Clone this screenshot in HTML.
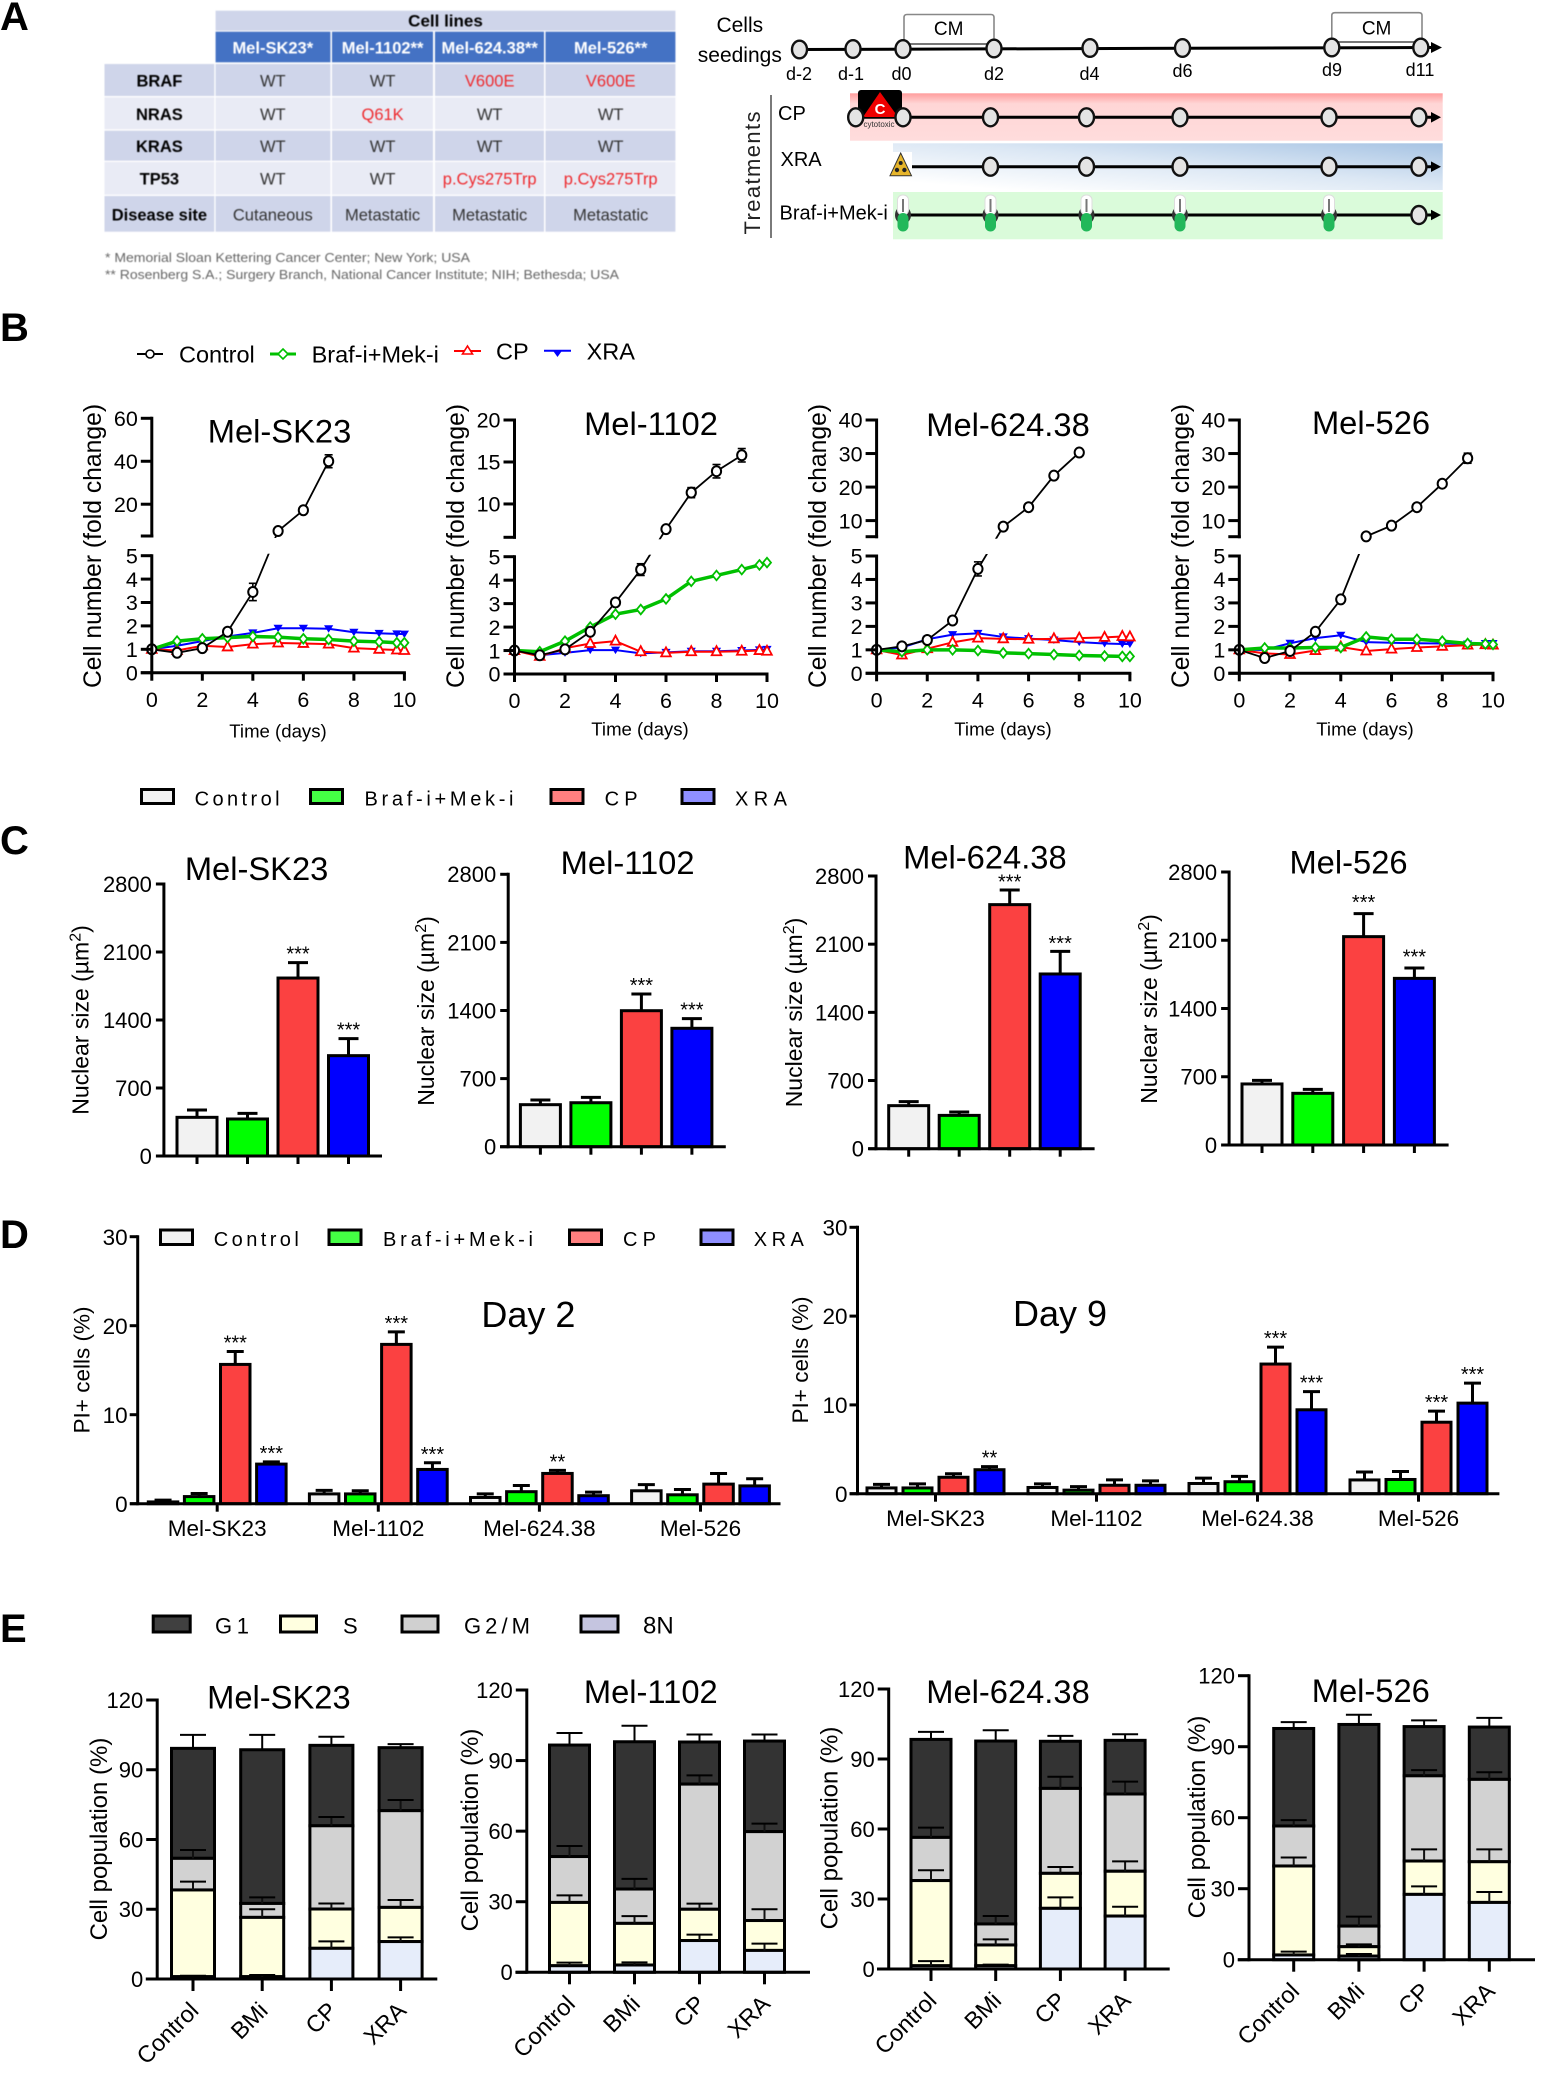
<!DOCTYPE html>
<html lang="en">
<head>
<meta charset="utf-8">
<title>Melanoma cell line treatment response figure</title>
<style>
html,body{margin:0;padding:0;background:#fff;}
svg{display:block;font-family:"Liberation Sans",Arial,sans-serif;}
text{fill:#000;}
</style>
</head>
<body>
<svg id="fig" xmlns="http://www.w3.org/2000/svg" width="1568" height="2086" viewBox="0 0 1568 2086">
<defs>
<linearGradient id="cpGrad" x1="0" y1="0" x2="0" y2="1">
<stop offset="0" stop-color="#ff9d9d"/><stop offset="0.22" stop-color="#ffd6d6"/><stop offset="1" stop-color="#ffdcdc"/>
</linearGradient>
<linearGradient id="xraGrad" x1="0" y1="1" x2="1" y2="0">
<stop offset="0.1" stop-color="#ffffff"/><stop offset="0.55" stop-color="#dbe7f4"/><stop offset="1" stop-color="#a6c3e3"/>
</linearGradient>
</defs>
<rect width="1568" height="2086" fill="#fff"/>

<text x="0" y="30" font-size="40" font-weight="bold">A</text>
<text x="0" y="341" font-size="40" font-weight="bold">B</text>
<text x="0" y="854" font-size="40" font-weight="bold">C</text>
<text x="0" y="1248" font-size="40" font-weight="bold">D</text>
<text x="0" y="1642" font-size="40" font-weight="bold">E</text>

<g id="cell-table" style="filter:blur(0.4px)" text-anchor="middle" font-size="16.5">
<rect x="215.6" y="10.7" width="459.8" height="20" fill="#cfd5ea"/>
<text x="445.5" y="26.7" font-weight="bold" font-size="17">Cell lines</text>
<g fill="#4472c4">
<rect x="215.6" y="31.7" width="114.8" height="30.6"/>
<rect x="332" y="31.7" width="101" height="30.6"/>
<rect x="435" y="31.7" width="109" height="30.6"/>
<rect x="545.5" y="31.7" width="129.9" height="30.6"/>
</g>
<g font-weight="bold">
<text x="272.8" y="53.3" style="fill:#fff">Mel-SK23*</text>
<text x="382.6" y="53.3" style="fill:#fff">Mel-1102**</text>
<text x="489.7" y="53.3" style="fill:#fff">Mel-624.38**</text>
<text x="610.7" y="53.3" style="fill:#fff">Mel-526**</text>
</g>
<g>
<g fill="#cfd5ea"><rect x="104.5" y="64" width="109.8" height="32"/><rect x="215.6" y="64" width="114.8" height="32"/><rect x="332" y="64" width="101" height="32"/><rect x="435" y="64" width="109" height="32"/><rect x="545.5" y="64" width="129.9" height="32"/></g>
<g fill="#e9ebf5"><rect x="104.5" y="97.3" width="109.8" height="32"/><rect x="215.6" y="97.3" width="114.8" height="32"/><rect x="332" y="97.3" width="101" height="32"/><rect x="435" y="97.3" width="109" height="32"/><rect x="545.5" y="97.3" width="129.9" height="32"/></g>
<g fill="#cfd5ea"><rect x="104.5" y="130.7" width="109.8" height="30"/><rect x="215.6" y="130.7" width="114.8" height="30"/><rect x="332" y="130.7" width="101" height="30"/><rect x="435" y="130.7" width="109" height="30"/><rect x="545.5" y="130.7" width="129.9" height="30"/></g>
<g fill="#e9ebf5"><rect x="104.5" y="162" width="109.8" height="32.7"/><rect x="215.6" y="162" width="114.8" height="32.7"/><rect x="332" y="162" width="101" height="32.7"/><rect x="435" y="162" width="109" height="32.7"/><rect x="545.5" y="162" width="129.9" height="32.7"/></g>
<g fill="#cfd5ea"><rect x="104.5" y="196" width="109.8" height="35.7"/><rect x="215.6" y="196" width="114.8" height="35.7"/><rect x="332" y="196" width="101" height="35.7"/><rect x="435" y="196" width="109" height="35.7"/><rect x="545.5" y="196" width="129.9" height="35.7"/></g>
</g>
<g font-weight="bold">
<text x="159.4" y="86.3">BRAF</text>
<text x="159.4" y="120">NRAS</text>
<text x="159.4" y="152">KRAS</text>
<text x="159.4" y="184.7">TP53</text>
<text x="159.4" y="220.7">Disease site</text>
</g>
<g>
<text x="272.8" y="86.3" style="fill:#333">WT</text><text x="382.6" y="86.3" style="fill:#333">WT</text><text x="489.7" y="86.3" style="fill:#ee2a2e">V600E</text><text x="610.7" y="86.3" style="fill:#ee2a2e">V600E</text>
<text x="272.8" y="120" style="fill:#333">WT</text><text x="382.6" y="120" style="fill:#ee2a2e">Q61K</text><text x="489.7" y="120" style="fill:#333">WT</text><text x="610.7" y="120" style="fill:#333">WT</text>
<text x="272.8" y="152" style="fill:#333">WT</text><text x="382.6" y="152" style="fill:#333">WT</text><text x="489.7" y="152" style="fill:#333">WT</text><text x="610.7" y="152" style="fill:#333">WT</text>
<text x="272.8" y="184.7" style="fill:#333">WT</text><text x="382.6" y="184.7" style="fill:#333">WT</text><text x="489.7" y="184.7" style="fill:#ee2a2e">p.Cys275Trp</text><text x="610.7" y="184.7" style="fill:#ee2a2e">p.Cys275Trp</text>
<text x="272.8" y="220.7" style="fill:#333">Cutaneous</text><text x="382.6" y="220.7" style="fill:#333">Metastatic</text><text x="489.7" y="220.7" style="fill:#333">Metastatic</text><text x="610.7" y="220.7" style="fill:#333">Metastatic</text>
</g>
<text x="105" y="262" text-anchor="start" font-size="13" textLength="365" lengthAdjust="spacingAndGlyphs" style="fill:#666">* Memorial Sloan Kettering Cancer Center; New York; USA</text>
<text x="105" y="279" text-anchor="start" font-size="13" textLength="514" lengthAdjust="spacingAndGlyphs" style="fill:#666">** Rosenberg S.A.; Surgery Branch, National Cancer Institute; NIH;  Bethesda; USA</text>
</g>

<g id="timeline" style="filter:blur(0.35px)">
<rect x="850" y="93.3" width="592.7" height="47.4" fill="url(#cpGrad)"/>
<rect x="893" y="143.3" width="549.7" height="46.7" fill="url(#xraGrad)"/>
<rect x="893" y="192" width="549.7" height="47.3" fill="#dafbda"/>

<text x="739.8" y="32" font-size="21" text-anchor="middle">Cells</text>
<text x="739.8" y="62" font-size="21" text-anchor="middle">seedings</text>
<path d="M904 44V17.5Q904 14.5 907 14.5H991Q994 14.5 994 17.5V44" fill="none" stroke="#888" stroke-width="1.6"/>
<path d="M1331.8 42V15.5Q1331.8 12.7 1335 12.7H1419Q1422 12.7 1422 15.5V42" fill="none" stroke="#888" stroke-width="1.6"/>
<line x1="904" y1="44" x2="994" y2="44" stroke="#777" stroke-width="2"/>
<line x1="1331.8" y1="42" x2="1422" y2="42" stroke="#777" stroke-width="2"/>
<text x="948.7" y="35" font-size="19" text-anchor="middle">CM</text>
<text x="1376.6" y="34.5" font-size="19" text-anchor="middle">CM</text>

<line x1="799.5" y1="49.5" x2="1432" y2="47.5" stroke="#000" stroke-width="3"/>
<polygon points="1431,42 1442,47.5 1431,53" fill="#000"/>
<g fill="#e4e4e4" stroke="#111" stroke-width="2.4">
<ellipse cx="799.5" cy="49.5" rx="7.5" ry="8.8"/><ellipse cx="853" cy="49" rx="7.5" ry="8.8"/><ellipse cx="903" cy="49" rx="7.5" ry="8.8"/><ellipse cx="994" cy="48.5" rx="7.5" ry="8.8"/><ellipse cx="1090" cy="48" rx="7.5" ry="8.8"/><ellipse cx="1182.5" cy="48" rx="7.5" ry="8.8"/><ellipse cx="1331.8" cy="47.5" rx="7.5" ry="8.8"/><ellipse cx="1420.8" cy="47.5" rx="7.5" ry="8.8"/>
</g>
<g font-size="18" text-anchor="middle">
<text x="799" y="80">d-2</text><text x="851" y="80">d-1</text><text x="901.5" y="80">d0</text><text x="994" y="80">d2</text><text x="1089.5" y="80">d4</text><text x="1182.5" y="77">d6</text><text x="1332" y="76">d9</text><text x="1420" y="76">d11</text>
</g>

<line x1="771" y1="95" x2="771" y2="238" stroke="#222" stroke-width="1.2"/>
<text x="760" y="173" transform="rotate(-90 760 173)" font-size="22" text-anchor="middle" textLength="123" style="fill:#222">Treatments</text>
<text x="778" y="120" font-size="20">CP</text>
<text x="780.5" y="166" font-size="20">XRA</text>
<text x="779.5" y="219.5" font-size="20">Braf-i+Mek-i</text>

<line x1="856" y1="117.3" x2="1432" y2="117.3" stroke="#000" stroke-width="3"/>
<polygon points="1431,112 1441,117.3 1431,122.6" fill="#000"/>
<g>
<rect x="858" y="90" width="44" height="25" rx="3" fill="#000"/>
<polygon points="880,92 863,117 898,117" fill="#ee0000"/>
<text x="880" y="114" font-size="15" font-weight="bold" text-anchor="middle" style="fill:#fff">C</text>
<text x="879" y="127" font-size="8" text-anchor="middle" style="fill:#333">cytotoxic</text>
</g>
<g fill="#e4e4e4" stroke="#111" stroke-width="2.4">
<ellipse cx="855.7" cy="117.3" rx="7.5" ry="9"/><ellipse cx="903" cy="117.3" rx="7.5" ry="9"/><ellipse cx="990.5" cy="117.3" rx="7.5" ry="9"/><ellipse cx="1086.5" cy="117.3" rx="7.5" ry="9"/><ellipse cx="1180" cy="117.3" rx="7.5" ry="9"/><ellipse cx="1329" cy="117.3" rx="7.5" ry="9"/><ellipse cx="1418.9" cy="117.3" rx="7.5" ry="9"/>
</g>

<line x1="911" y1="166.7" x2="1432" y2="166.7" stroke="#000" stroke-width="3"/>
<polygon points="1431,161.4 1441,166.7 1431,172" fill="#000"/>
<g>
<rect x="893" y="152" width="19" height="24" fill="#fff"/>
<polygon points="900.7,153 890,175.7 911.5,175.7" fill="#e6b52b" stroke="#333" stroke-width="1"/>
<circle cx="900.7" cy="163" r="2" fill="#222"/><circle cx="897" cy="170" r="2.2" fill="#222"/><circle cx="904.4" cy="170" r="2.2" fill="#222"/>
</g>
<g fill="#e4e4e4" stroke="#111" stroke-width="2.4">
<ellipse cx="990.5" cy="166.7" rx="7.5" ry="9"/><ellipse cx="1086.5" cy="166.7" rx="7.5" ry="9"/><ellipse cx="1180" cy="166.7" rx="7.5" ry="9"/><ellipse cx="1329" cy="166.7" rx="7.5" ry="9"/><ellipse cx="1418.9" cy="166.7" rx="7.5" ry="9"/>
</g>

<line x1="903" y1="215" x2="1432" y2="215" stroke="#000" stroke-width="3"/>
<polygon points="1431,209.7 1441,215 1431,220.3" fill="#000"/>
<g>
<g transform="translate(903 0)"><ellipse cx="0" cy="215" rx="8" ry="9" fill="#333"/><rect x="-5.5" y="195" width="11" height="20" rx="5" fill="#fff" stroke="#ddd"/><rect x="-1" y="199" width="2" height="13" fill="#777"/><rect x="-5.5" y="213" width="11" height="18.5" rx="5.5" fill="#22b85a"/></g>
<g transform="translate(990.5 0)"><ellipse cx="0" cy="215" rx="8" ry="9" fill="#333"/><rect x="-5.5" y="195" width="11" height="20" rx="5" fill="#fff" stroke="#ddd"/><rect x="-1" y="199" width="2" height="13" fill="#777"/><rect x="-5.5" y="213" width="11" height="18.5" rx="5.5" fill="#22b85a"/></g>
<g transform="translate(1086.5 0)"><ellipse cx="0" cy="215" rx="8" ry="9" fill="#333"/><rect x="-5.5" y="195" width="11" height="20" rx="5" fill="#fff" stroke="#ddd"/><rect x="-1" y="199" width="2" height="13" fill="#777"/><rect x="-5.5" y="213" width="11" height="18.5" rx="5.5" fill="#22b85a"/></g>
<g transform="translate(1180 0)"><ellipse cx="0" cy="215" rx="8" ry="9" fill="#333"/><rect x="-5.5" y="195" width="11" height="20" rx="5" fill="#fff" stroke="#ddd"/><rect x="-1" y="199" width="2" height="13" fill="#777"/><rect x="-5.5" y="213" width="11" height="18.5" rx="5.5" fill="#22b85a"/></g>
<g transform="translate(1329 0)"><ellipse cx="0" cy="215" rx="8" ry="9" fill="#333"/><rect x="-5.5" y="195" width="11" height="20" rx="5" fill="#fff" stroke="#ddd"/><rect x="-1" y="199" width="2" height="13" fill="#777"/><rect x="-5.5" y="213" width="11" height="18.5" rx="5.5" fill="#22b85a"/></g>
</g>
<ellipse cx="1418.9" cy="215" rx="7.5" ry="9" fill="#e4e4e4" stroke="#111" stroke-width="2.4"/>
</g>

<g id="legend-b" font-size="23.5">
<g><line x1="137" y1="354" x2="163" y2="354" stroke="#000" stroke-width="2"/><circle cx="150" cy="354" r="4" fill="#fff" stroke="#000" stroke-width="1.6"/><text x="179" y="362.5">Control</text></g>
<g><line x1="270" y1="354" x2="296" y2="354" stroke="#00c000" stroke-width="3"/><polygon points="283,349 288,354 283,359 278,354" fill="#fff" stroke="#00c000" stroke-width="1.6"/><text x="311.6" y="362.5">Braf-i+Mek-i</text></g>
<g><line x1="454" y1="351" x2="481" y2="351" stroke="#f00" stroke-width="2"/><polygon points="467.5,346 472.5,354 462.5,354" fill="#fff" stroke="#f00" stroke-width="1.6"/><text x="496" y="359.5">CP</text></g>
<g><line x1="544" y1="350.7" x2="571" y2="350.7" stroke="#00f" stroke-width="2"/><polygon points="552.5,350 562.5,350 557.5,357" fill="#00f"/><text x="586.6" y="359.5">XRA</text></g>
</g>

<g id="legend-c" font-size="20" stroke-width="3">
<g><rect x="141.5" y="789.5" width="32" height="14" fill="#f2f2f2" stroke="#000" stroke-width="3"/><text x="194.6" y="805.5" textLength="85">Control</text></g>
<g><rect x="310.5" y="789.5" width="32" height="14" fill="#44ff44" stroke="#000" stroke-width="3"/><text x="364.5" y="805.5" textLength="149">Braf-i+Mek-i</text></g>
<g><rect x="551" y="789.5" width="32" height="14" fill="#ff7f7f" stroke="#000" stroke-width="3"/><text x="604.6" y="805.5" textLength="33">CP</text></g>
<g><rect x="682" y="789.5" width="32" height="14" fill="#8f8fff" stroke="#000" stroke-width="3"/><text x="735" y="805.5" textLength="52">XRA</text></g>
</g>

<g id="legend-d" font-size="20">
<g><rect x="160.5" y="1230" width="32" height="14.5" fill="#f2f2f2" stroke="#000" stroke-width="3"/><text x="213.8" y="1246" textLength="85">Control</text></g>
<g><rect x="329" y="1230" width="32" height="14.5" fill="#44ff44" stroke="#000" stroke-width="3"/><text x="383" y="1246" textLength="150">Braf-i+Mek-i</text></g>
<g><rect x="569.5" y="1230" width="32" height="14.5" fill="#ff7f7f" stroke="#000" stroke-width="3"/><text x="623" y="1246" textLength="33">CP</text></g>
<g><rect x="701" y="1230" width="32" height="14.5" fill="#8f8fff" stroke="#000" stroke-width="3"/><text x="753.8" y="1246" textLength="50">XRA</text></g>
</g>

<g id="legend-e" font-size="22">
<g><rect x="153.2" y="1616" width="37" height="16" fill="#404040" stroke="#000" stroke-width="3"/><text x="215" y="1633.5" textLength="34">G1</text></g>
<g><rect x="280.5" y="1616" width="36" height="16" fill="#ffffe0" stroke="#000" stroke-width="3"/><text x="343" y="1633.5">S</text></g>
<g><rect x="402" y="1616" width="36" height="16" fill="#d0d0d0" stroke="#000" stroke-width="3"/><text x="464" y="1633.5" textLength="66">G2/M</text></g>
<g><rect x="581" y="1616" width="37" height="16" fill="#c5c5e0" stroke="#000" stroke-width="3"/><text x="643" y="1633.5" font-size="24">8N</text></g>
</g>

<g id="charts"></g>
</svg>

<script>
// ---------- Panel B: growth curves ----------
const growthDays = [0, 1, 2, 3, 4, 5, 6, 7, 8, 9, 9.7, 10];
const growthXTicks = [0, 2, 4, 6, 8, 10];
const growthLowerTicks = [0, 1, 2, 3, 4, 5];

const controlSK23 = [1, 0.85, 1.05, 1.75, 3.45, 7.5, 17.2, 40];
const brafSK23 = [1, 1.35, 1.45, 1.5, 1.55, 1.52, 1.45, 1.42, 1.35, 1.32, 1.28, 1.28];
const cpSK23 = [1, 0.95, 1.15, 1.1, 1.22, 1.27, 1.25, 1.22, 1.05, 1, 0.97, 0.95];
const xraSK23 = [1, 1.15, 1.35, 1.55, 1.7, 1.9, 1.9, 1.88, 1.73, 1.68, 1.66, 1.65];
const controlErrSK23 = [0, 0.03, 0.05, 0.12, 0.37, 0.5, 0.5, 3];
const upperTicksSK23 = [20, 40, 60];

const control1102 = [1, 0.8, 1.05, 1.8, 3.05, 4.45, 7, 11.35, 13.9, 15.8];
const braf1102 = [1, 0.95, 1.4, 2, 2.55, 2.75, 3.2, 3.95, 4.2, 4.45, 4.65, 4.75];
const cp1102 = [1, 0.75, 1.1, 1.3, 1.4, 0.95, 0.9, 0.95, 0.95, 0.97, 1, 0.97];
const xra1102 = [1, 0.8, 0.9, 1.02, 1.02, 0.88, 0.92, 0.97, 0.97, 1, 1.03, 1.05];
const controlErr1102 = [0, 0.03, 0.05, 0.1, 0.1, 0.25, 0.1, 0.6, 0.8, 0.8];
const upperTicks1102 = [10, 15, 20];

const control624 = [1, 1.15, 1.42, 2.25, 4.45, 8.2, 14, 23.4, 30.3];
const braf624 = [1, 0.92, 1, 1, 0.97, 0.87, 0.84, 0.8, 0.76, 0.74, 0.72, 0.72];
const cp624 = [1, 0.78, 1.05, 1.32, 1.5, 1.47, 1.45, 1.47, 1.5, 1.53, 1.57, 1.55];
const xra624 = [1, 1.1, 1.45, 1.65, 1.7, 1.55, 1.48, 1.42, 1.33, 1.27, 1.25, 1.25];
const controlErr624 = [0, 0.05, 0.05, 0.05, 0.3, 0.2, 0.2, 0.3, 0.4];
const upperTicks624 = [10, 20, 30, 40];

const control526 = [1, 0.65, 0.95, 1.77, 3.15, 5.3, 8.5, 14, 21, 28.6];
const braf526 = [1, 1.08, 1.08, 1.1, 1.1, 1.55, 1.45, 1.45, 1.37, 1.27, 1.25, 1.23];
const cp526 = [1, 0.85, 0.8, 0.97, 1.12, 0.95, 1.03, 1.1, 1.15, 1.2, 1.22, 1.2];
const xra526 = [1, 1, 1.28, 1.5, 1.62, 1.33, 1.3, 1.28, 1.27, 1.25, 1.27, 1.27];
const controlErr526 = [0, 0.03, 0.05, 0.05, 0.05, 0.1, 0.2, 0.3, 0.3, 1.5];
const upperTicks526 = [10, 20, 30, 40];

// ---------- Panel C: nuclear size ----------
const nuclearTicks = [0, 700, 1400, 2100, 2800];
const nuclearSK23 = [398, 381, 1832, 1033];
const nuclearErrSK23 = [473, 439, 1990, 1208];
const nuclear1102 = [432, 452, 1398, 1217];
const nuclearErr1102 = [480, 507, 1570, 1316];
const nuclear624 = [442, 342, 2506, 1794];
const nuclearErr624 = [483, 377, 2656, 2026];
const nuclear526 = [626, 530, 2137, 1709];
const nuclearErr526 = [663, 571, 2373, 1815];
const nuclearStars = ['', '', '***', '***'];

// ---------- Panel D: PI+ cells ----------
const piTicks = [0, 10, 20, 30];
const piGroups = ['Mel-SK23', 'Mel-1102', 'Mel-624.38', 'Mel-526'];
const piSeriesNames = ['control', 'braf-mek', 'cp', 'xra'];

const day2Control = [0.2, 1.1, 0.7, 1.45];
const day2Braf = [0.8, 1.1, 1.35, 1];
const day2CP = [15.65, 17.9, 3.4, 2.2];
const day2XRA = [4.45, 3.85, 0.9, 2];
const day2ControlErr = [0.4, 1.5, 1.1, 2.15];
const day2BrafErr = [1.15, 1.45, 2.05, 1.6];
const day2CPErr = [17.1, 19.3, 3.75, 3.4];
const day2XRAErr = [4.7, 4.6, 1.3, 2.8];
const day2CPStars = ['***', '***', '**', ''];
const day2XRAStars = ['***', '***', '', ''];

const day9Control = [0.65, 0.7, 1.15, 1.55];
const day9Braf = [0.65, 0.4, 1.35, 1.6];
const day9CP = [1.85, 0.95, 14.6, 8.05];
const day9XRA = [2.7, 0.95, 9.45, 10.2];
const day9ControlErr = [1.05, 1.1, 1.75, 2.45];
const day9BrafErr = [1.1, 0.8, 1.95, 2.5];
const day9CPErr = [2.25, 1.55, 16.5, 9.3];
const day9XRAErr = [3.05, 1.45, 11.5, 12.45];
const day9CPStars = ['', '', '***', '***'];
const day9XRAStars = ['**', '', '***', '***'];

// ---------- Panel E: cell cycle (cumulative stack tops, order Control, BMi, CP, XRA) ----------
const cycleTicks = [0, 30, 60, 90, 120];
const cycleTreatments = ['Control', 'BMi', 'CP', 'XRA'];

const n8SK23 = [1, 1, 13.2, 16.1];
const sSK23 = [38.3, 26.5, 30.1, 30.8];
const g2SK23 = [51.9, 32.5, 65.9, 72.4];
const g1SK23 = [99.2, 98.6, 100.5, 99.5];
const n8ErrSK23 = [1.4, 1.7, 16.2, 17.9];
const sErrSK23 = [41.9, 30, 32.5, 34];
const g2ErrSK23 = [55.5, 35.1, 69.7, 77];
const g1ErrSK23 = [105, 105, 104.2, 101];

const n81102 = [2.8, 3.1, 13.5, 9.3];
const s1102 = [29.7, 20.8, 26.8, 22];
const g21102 = [49.2, 35.4, 80, 59.8];
const g11102 = [96.6, 98, 97.9, 98.3];
const n8Err1102 = [4.1, 4.2, 16, 12.2];
const sErr1102 = [32.7, 23.9, 29.2, 26.8];
const g2Err1102 = [53.7, 39.7, 83.7, 63.2];
const g1Err1102 = [101.7, 104.8, 101.1, 101.1];

const n8624 = [1.4, 1.4, 26, 22.7];
const s624 = [37.9, 10.3, 41, 41.9];
const g2624 = [56.4, 19.3, 77.4, 75];
const g1624 = [98.4, 97.7, 97.6, 98];
const n8Err624 = [3.4, 1.9, 30.7, 26.7];
const sErr624 = [42.3, 12.7, 43.7, 46.1];
const g2Err624 = [60.6, 22.7, 82.4, 80.3];
const g1Err624 = [101.6, 102.3, 99.9, 100.6];

const n8526 = [2, 1.5, 27.6, 24.2];
const s526 = [39.6, 5.5, 41.7, 41.4];
const g2526 = [56.5, 14.2, 77.7, 76.2];
const g1526 = [97.7, 99.4, 98.5, 98.3];
const n8Err526 = [3.4, 2.4, 31, 28.6];
const sErr526 = [43.2, 6.5, 46.6, 46.6];
const g2Err526 = [59, 18.2, 80.1, 79.2];
const g1Err526 = [100.4, 103.5, 101.1, 102.2];

// ---------- drawing helpers ----------
const NS = 'http://www.w3.org/2000/svg';
const chartsRoot = document.getElementById('charts');

function make(parent, tag, attrs, content) {
  const e = document.createElementNS(NS, tag);
  for (const k in attrs) e.setAttribute(k, attrs[k]);
  if (content !== undefined) e.textContent = content;
  parent.appendChild(e);
  return e;
}
function seg(parent, x1, y1, x2, y2, w, color) {
  return make(parent, 'line', {x1: x1, y1: y1, x2: x2, y2: y2, stroke: color || '#000', 'stroke-width': w});
}
function centerText(parent, x, y, str, size, anchor) {
  return make(parent, 'text', {x: x, y: y + 0.36 * size, 'font-size': size, 'text-anchor': anchor || 'middle'}, str);
}
function verticalText(parent, x, y, str, size) {
  return make(parent, 'text', {x: x + 0.36 * size, y: y, 'font-size': size, 'text-anchor': 'middle',
    transform: 'rotate(-90 ' + (x + 0.36 * size) + ' ' + y + ')'}, str);
}
function group(parent) {
  return make(parent, 'g', {});
}

function drawYAxis(root, x, yTop, yBottom, ticks, scale, size, tickLen, gap, axisW) {
  const axis = seg(root, x, yTop - axisW / 2, x, yBottom + axisW / 2, axisW);
  
  
  ticks.forEach(function (t) {
    const mark = seg(root, x - tickLen, scale(t), x, scale(t), axisW);
    
    
    const lab = centerText(root, x - tickLen - gap, scale(t), String(t), size, 'end');
    
    
  });
}

// ---------- Panel B ----------
function drawMarker(g, kind, x, y, color) {
  if (kind === 'circle') return make(g, 'ellipse', {cx: x, cy: y, rx: 4.6, ry: 5, fill: '#fff', stroke: color, 'stroke-width': 2});
  if (kind === 'diamond') return make(g, 'polygon', {points: [x, y - 4.8, x + 4, y, x, y + 4.8, x - 4, y].join(','), fill: '#fff', stroke: color, 'stroke-width': 1.8});
  if (kind === 'tri') return make(g, 'polygon', {points: [x, y - 5.5, x + 4.8, y + 3.5, x - 4.8, y + 3.5].join(','), fill: '#fff', stroke: color, 'stroke-width': 1.8});
  return make(g, 'polygon', {points: [x - 4.6, y - 3.5, x + 4.6, y - 3.5, x, y + 4].join(','), fill: color});
}

function drawSeriesLine(g, values, xs, ys, color, width) {
  const pts = values.map(function (v, i) { return xs(growthDays[i]) + ',' + ys(v); }).join(' ');
  return make(g, 'polyline', {points: pts, fill: 'none', stroke: color, 'stroke-width': width});
}

function drawGrowthChart(cfg, title, slug, upperTicks, controlVals, controlErr, brafVals, cpVals, xraVals) {
  const root = group(chartsRoot);
  
  
  const xs = function (d) { return cfg.x0 + d * (cfg.x10 - cfg.x0) / 10; };
  const ys = function (v) {
    if (v <= 5) return cfg.y0 - v * (cfg.y0 - cfg.y5) / 5;
    return cfg.yB - (v - cfg.vB) * (cfg.yB - cfg.yT) / (cfg.vT - cfg.vB);
  };

  const tt = centerText(root, cfg.titleX, cfg.titleY, title, 32.7);
  
  
  const yl = verticalText(root, cfg.labelX, 546, 'Cell number (fold change)', 24.7);
  
  
  const xl = centerText(root, cfg.timeX, cfg.timeY, 'Time (days)', 18.6);
  
  

  const xra = group(root);
  
  
  drawSeriesLine(xra, xraVals, xs, ys, '#0000ff', 2);
  xraVals.forEach(function (v, i) { drawMarker(xra, 'invtri', xs(growthDays[i]), ys(v), '#0000ff'); });

  const cp = group(root);
  
  
  drawSeriesLine(cp, cpVals, xs, ys, '#ff0000', 2);
  cpVals.forEach(function (v, i) { drawMarker(cp, 'tri', xs(growthDays[i]), ys(v), '#ff0000'); });

  const braf = group(root);
  
  
  drawSeriesLine(braf, brafVals, xs, ys, '#00c000', 3.5);
  brafVals.forEach(function (v, i) { drawMarker(braf, 'diamond', xs(growthDays[i]), ys(v), '#00c000'); });

  const ctl = group(root);
  
  
  drawSeriesLine(ctl, controlVals, xs, ys, '#000', 1.8);
  const mask = make(root, 'rect', {x: cfg.x0 - 14, y: cfg.yB + 2, width: cfg.x10 - cfg.x0 + 30, height: cfg.y5 - cfg.yB - 4, fill: '#fff'});
  
  
  const ctlMarks = group(root);
  
  
  controlVals.forEach(function (v, i) {
    const x = xs(growthDays[i]);
    const e = controlErr[i] || 0;
    if (e > 0.1) {
      seg(ctlMarks, x, ys(v - e), x, ys(v + e), 1.6);
      seg(ctlMarks, x - 4, ys(v + e), x + 4, ys(v + e), 1.6);
      seg(ctlMarks, x - 4, ys(v - e), x + 4, ys(v - e), 1.6);
    }
    drawMarker(ctlMarks, 'circle', x, ys(v), '#000');
  });

  drawYAxis(root, cfg.x0, cfg.y5, cfg.y0, growthLowerTicks, ys, 21.5, 11, 3, 3);
  drawYAxis(root, cfg.x0, cfg.yT, cfg.yB, upperTicks, ys, 21.5, 11, 3, 3);
  const bottomTick = seg(root, cfg.x0 - 11, cfg.yB, cfg.x0 + 1.5, cfg.yB, 3);
  
  

  const xAxis = seg(root, cfg.x0 - 11, cfg.y0, cfg.x10 + 1.5, cfg.y0, 3);
  
  
  growthXTicks.forEach(function (t) {
    const mark = seg(root, xs(t), cfg.y0, xs(t), cfg.y0 + 8, 3);
    
    
    const lab = centerText(root, xs(t), cfg.y0 + 26.5, String(t), 21.5);
    
    
  });
}

drawGrowthChart({x0: 151.8, x10: 404.4, y0: 672.7, y5: 555.7, yT: 418.3, yB: 536, vT: 60, vB: 5.2, titleX: 279.5, titleY: 430.5, labelX: 92, timeX: 278, timeY: 730.7},
  'Mel-SK23', 'mel-sk23', upperTicksSK23, controlSK23, controlErrSK23, brafSK23, cpSK23, xraSK23);
drawGrowthChart({x0: 514.5, x10: 767, y0: 674, y5: 556.7, yT: 420, yB: 537.3, vT: 20, vB: 6.03, titleX: 651, titleY: 423, labelX: 455, timeX: 640, timeY: 729},
  'Mel-1102', 'mel-1102', upperTicks1102, control1102, controlErr1102, braf1102, cp1102, xra1102);
drawGrowthChart({x0: 876.6, x10: 1129.9, y0: 673.3, y5: 556, yT: 420, yB: 536.7, vT: 40, vB: 5.2, titleX: 1008, titleY: 424, labelX: 817, timeX: 1003, timeY: 729},
  'Mel-624.38', 'mel-624-38', upperTicks624, control624, controlErr624, braf624, cp624, xra624);
drawGrowthChart({x0: 1239.3, x10: 1493, y0: 673.3, y5: 556, yT: 420, yB: 536.7, vT: 40, vB: 5.2, titleX: 1371, titleY: 422, labelX: 1180, timeX: 1365, timeY: 729},
  'Mel-526', 'mel-526', upperTicks526, control526, controlErr526, braf526, cp526, xra526);

// ---------- Panel C ----------
const barFills = ['#f2f2f2', '#00ff00', '#fb4141', '#0000ff'];

function drawBar(root, cx, w, top, base, errTop, capW, fill, stars, name, starSize, lift) {
  const whisker = seg(root, cx, top, cx, errTop, 3);
  
  
  const cap = seg(root, cx - capW / 2, errTop, cx + capW / 2, errTop, 3);
  
  
  const bar = make(root, 'rect', {x: cx - w / 2 + 1.5, y: top, width: w - 3, height: Math.max(base - top, 0), fill: fill, stroke: '#000', 'stroke-width': 3});
  
  
  if (stars) {
    const s = make(root, 'text', {x: cx, y: errTop - lift, 'font-size': starSize, 'text-anchor': 'middle'}, stars);
    
    
  }
}

function drawNuclearChart(cfg, title, slug, values, errs) {
  const root = group(chartsRoot);
  
  
  const ys = function (v) { return cfg.y0 - v * (cfg.y0 - cfg.yT) / 2800; };
  const tt = centerText(root, cfg.titleX, cfg.titleY, title, 32.7);
  
  
  const yl = verticalText(root, cfg.labelX, cfg.labelY, 'Nuclear size (µm', 23);
  const sup = make(yl, 'tspan', {dy: -8, 'font-size': 16}, '2');
  
  
  const close = make(yl, 'tspan', {dy: 8}, ')');
  
  
  
  
  values.forEach(function (v, i) {
    const cx = cfg.first + i * cfg.step;
    drawBar(root, cx, 43, ys(v), cfg.y0, ys(errs[i]), 20, barFills[i], nuclearStars[i], piSeriesNames[i], 20, cfg.lift);
    const mark = seg(root, cx, cfg.y0, cx, cfg.y0 + 8, 3);
    
    
  });
  drawYAxis(root, cfg.axisX, cfg.yT, cfg.y0, nuclearTicks, ys, 22, 8, 4, 3);
  const xAxis = seg(root, cfg.left, cfg.y0, cfg.right, cfg.y0, 3);
  
  
}

drawNuclearChart({axisX: 163.9, y0: 1156, yT: 884, left: 156.5, right: 382, first: 197, step: 50.5, lift: 2, titleX: 256.6, titleY: 868, labelX: 80, labelY: 1020}, 'Mel-SK23', 'mel-sk23', nuclearSK23, nuclearErrSK23);
drawNuclearChart({axisX: 508.2, y0: 1146.7, yT: 874.3, left: 500, right: 725.8, first: 540.4, step: 50.5, lift: 2, titleX: 627.6, titleY: 862, labelX: 425.6, labelY: 1011}, 'Mel-1102', 'mel-1102', nuclear1102, nuclearErr1102);
drawNuclearChart({axisX: 876, y0: 1148.7, yT: 876, left: 868.7, right: 1094.6, first: 908.7, step: 50.5, lift: 1.5, titleX: 984.9, titleY: 856.7, labelX: 793.9, labelY: 1012.5}, 'Mel-624.38', 'mel-624-38', nuclear624, nuclearErr624);
drawNuclearChart({axisX: 1229.1, y0: 1145, yT: 872, left: 1222, right: 1448.6, first: 1262, step: 50.8, lift: 4.5, titleX: 1348.5, titleY: 861.7, labelX: 1148.8, labelY: 1009}, 'Mel-526', 'mel-526', nuclear526, nuclearErr526);

// ---------- Panel D ----------
function drawPiChart(cfg, title, slug, seriesVals, seriesErrs, cpStars, xraStars) {
  const root = group(chartsRoot);
  
  
  const ys = function (v) { return cfg.y0 - v * (cfg.y0 - cfg.yT) / 30; };
  const tt = centerText(root, cfg.titleX, cfg.titleY, title, 36);
  
  
  const yl = verticalText(root, cfg.labelX, cfg.labelY, 'PI+ cells (%)', 22.5);
  
  
  piGroups.forEach(function (groupName, g) {
    const gc = cfg.first + g * cfg.groupStep;
    seriesVals.forEach(function (vals, s) {
      const cx = gc + (s - 1.5) * cfg.step;
      const stars = s === 2 ? cpStars[g] : (s === 3 ? xraStars[g] : '');
      drawBar(root, cx, cfg.barW, ys(vals[g]), cfg.y0, ys(seriesErrs[s][g]), 17, barFills[s], stars, piSeriesNames[s] + '-' + g, 20, 2);
    });
    const mark = seg(root, gc, cfg.y0, gc, cfg.y0 + 8, 3);
    
    
    const lab = centerText(root, gc, cfg.y0 + 24, groupName, 22.5);
    
    
  });
  drawYAxis(root, cfg.axisX, cfg.yT, cfg.y0, piTicks, ys, 22.5, 8, 2, 3);
  const xAxis = seg(root, cfg.left, cfg.y0, cfg.right, cfg.y0, 3);
  
  
}

drawPiChart({axisX: 137.7, y0: 1503.7, yT: 1236.7, left: 130, right: 780.5, first: 217.2, groupStep: 161.1, step: 36.1, barW: 32.5, titleX: 528.4, titleY: 1314, labelX: 81.5, labelY: 1370},
  'Day 2', 'day-2', [day2Control, day2Braf, day2CP, day2XRA], [day2ControlErr, day2BrafErr, day2CPErr, day2XRAErr], day2CPStars, day2XRAStars);
drawPiChart({axisX: 857.5, y0: 1493.7, yT: 1227.3, left: 849.7, right: 1499.4, first: 935.5, groupStep: 161, step: 36, barW: 32, titleX: 1060, titleY: 1313, labelX: 800, labelY: 1360},
  'Day 9', 'day-9', [day9Control, day9Braf, day9CP, day9XRA], [day9ControlErr, day9BrafErr, day9CPErr, day9XRAErr], day9CPStars, day9XRAStars);

// ---------- Panel E ----------
const stackFills = ['#e6edfa', '#ffffe0', '#d2d2d2', '#333333'];
const stackNames = ['8n', 's', 'g2m', 'g1'];

function drawCycleChart(cfg, title, slug, tops, errs) {
  const root = group(chartsRoot);
  
  
  const ys = function (v) { return cfg.y0 - v * (cfg.y0 - cfg.yT) / 120; };
  const tt = centerText(root, cfg.titleX, cfg.titleY, title, 32.7);
  
  
  const yl = verticalText(root, cfg.labelX, cfg.labelY, 'Cell population (%)', 24);
  
  
  cycleTreatments.forEach(function (name, i) {
    const cx = cfg.first + i * cfg.step;
    const w = cfg.barW;
    for (let p = 3; p >= 0; p--) {
      const top = tops[p][i];
      const bottom = p === 0 ? 0 : tops[p - 1][i];
      const seg1 = make(root, 'rect', {x: cx - w / 2 + 1.5, y: ys(top), width: w - 3, height: Math.max(ys(bottom) - ys(top), 0), fill: stackFills[p], stroke: '#000', 'stroke-width': 3});
      
      
    }
    for (let p = 0; p < 4; p++) {
      const whisker = seg(root, cx, ys(tops[p][i]), cx, ys(errs[p][i]), 2, p === 3 ? '#000' : '#111');
      
      
      const cap = seg(root, cx - 13, ys(errs[p][i]), cx + 13, ys(errs[p][i]), 2);
      
      
    }
    const mark = seg(root, cx, cfg.y0, cx, cfg.y0 + 12, 3);
    
    
    const ax = cx + 7;
    const ay = cfg.y0 + 33;
    const lab = make(root, 'text', {x: ax, y: ay, 'font-size': 23.5, 'text-anchor': 'end', transform: 'rotate(-45 ' + ax + ' ' + ay + ')'}, name);
    
    
  });
  drawYAxis(root, cfg.axisX, cfg.yT, cfg.y0, cycleTicks, ys, 22, 11, 3, 3);
  const xAxis = seg(root, cfg.left, cfg.y0, cfg.right, cfg.y0, 3);
  
  
}

drawCycleChart({axisX: 157.2, y0: 1979, yT: 1700, left: 145.8, right: 437.3, first: 193, step: 69.2, barW: 46, titleX: 278.9, titleY: 1696.5, labelX: 98.5, labelY: 1839}, 'Mel-SK23', 'mel-sk23',
  [n8SK23, sSK23, g2SK23, g1SK23], [n8ErrSK23, sErrSK23, g2ErrSK23, g1ErrSK23]);
drawCycleChart({axisX: 526.8, y0: 1972.3, yT: 1690, left: 515.4, right: 810, first: 569.5, step: 65, barW: 43, titleX: 650.8, titleY: 1691, labelX: 469.4, labelY: 1830}, 'Mel-1102', 'mel-1102',
  [n81102, s1102, g21102, g11102], [n8Err1102, sErr1102, g2Err1102, g1Err1102]);
drawCycleChart({axisX: 888.7, y0: 1969, yT: 1689, left: 877, right: 1169.7, first: 931, step: 64.7, barW: 43, titleX: 1008, titleY: 1691, labelX: 829, labelY: 1828}, 'Mel-624.38', 'mel-624-38',
  [n8624, s624, g2624, g1624], [n8Err624, sErr624, g2Err624, g1Err624]);
drawCycleChart({axisX: 1249, y0: 1959.7, yT: 1675.7, left: 1237.7, right: 1535, first: 1293.7, step: 65.2, barW: 43, titleX: 1370.8, titleY: 1690, labelX: 1196.3, labelY: 1817}, 'Mel-526', 'mel-526',
  [n8526, s526, g2526, g1526], [n8Err526, sErr526, g2Err526, g1Err526]);
</script>
</body>
</html>
